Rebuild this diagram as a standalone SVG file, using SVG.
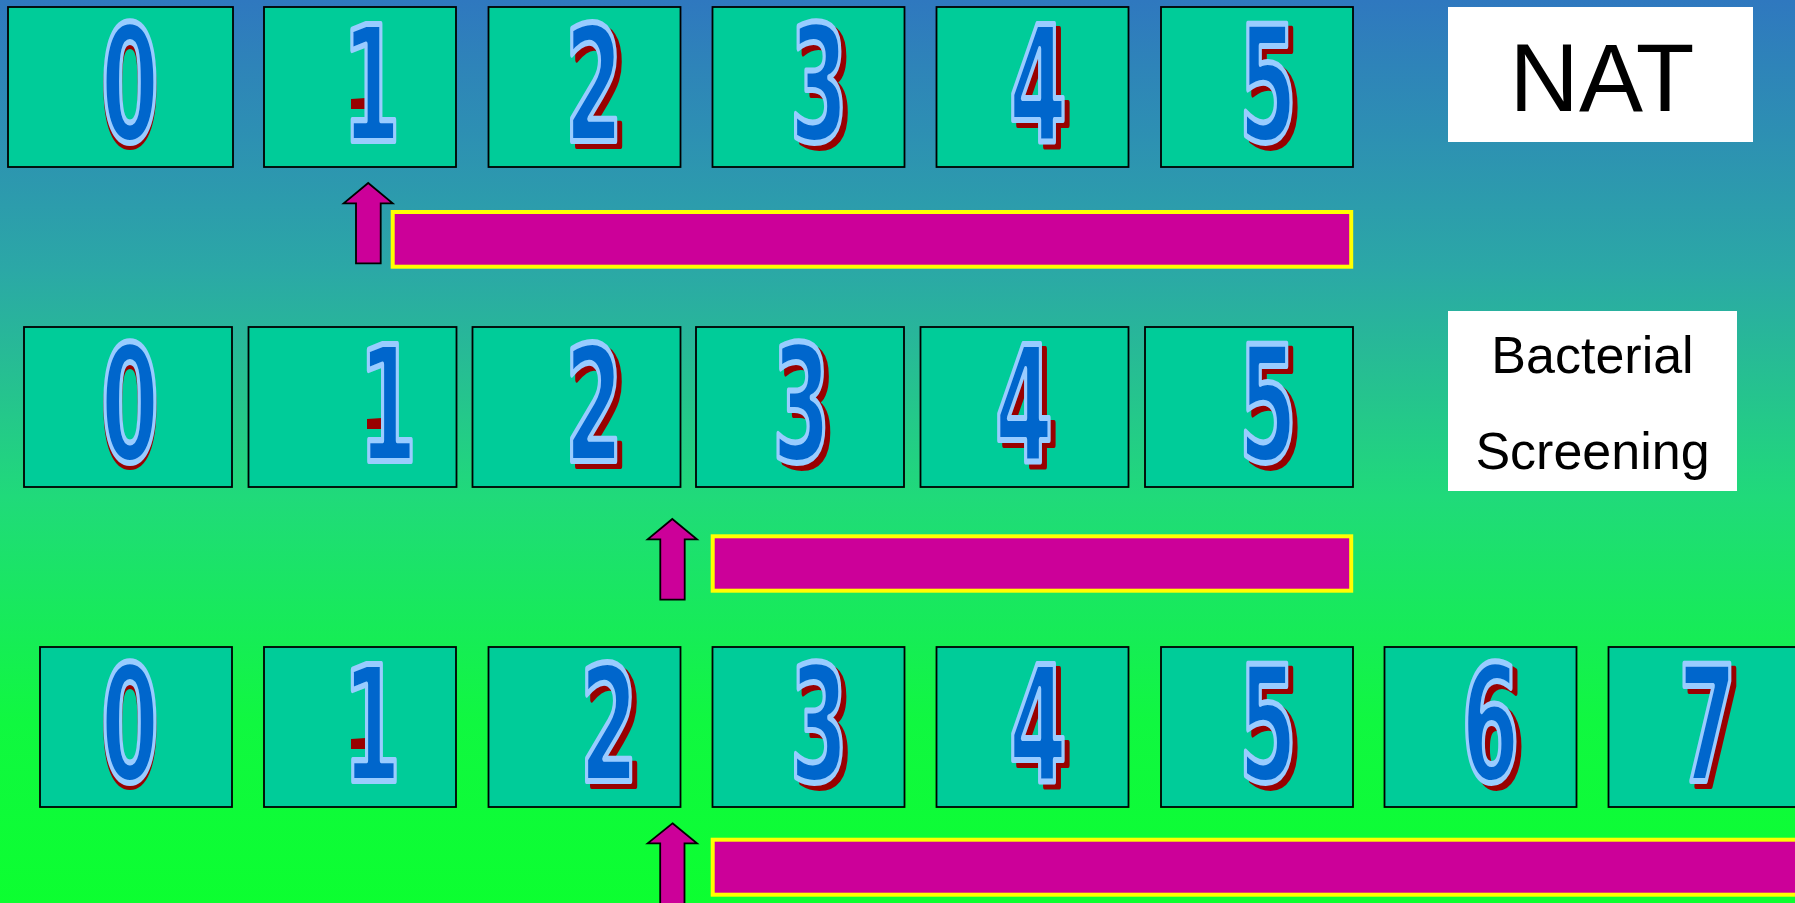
<svg xmlns="http://www.w3.org/2000/svg" width="1795" height="903" viewBox="0 0 1795 903">
<defs>
<linearGradient id="bg" x1="0" y1="0" x2="0" y2="903" gradientUnits="userSpaceOnUse">
<stop offset="0" stop-color="#2F78BF"/>
<stop offset="0.3" stop-color="#2BA8A6"/>
<stop offset="0.55" stop-color="#20DA7A"/>
<stop offset="0.8" stop-color="#10F840"/>
<stop offset="1" stop-color="#0CFF30"/>
</linearGradient>
</defs>
<style>
.box{fill:#00CC99;stroke:#000;stroke-width:1.8}
.dg{font-family:"DejaVu Sans",sans-serif;font-weight:bold;font-size:160px;text-anchor:middle;fill:#0066CC;stroke:#99CCFF;stroke-width:6;stroke-linejoin:round}
.sh{font-family:"DejaVu Sans",sans-serif;font-weight:bold;font-size:160px;text-anchor:middle;fill:#990000;stroke:#990000;stroke-width:6;stroke-linejoin:round}
.bar{fill:#CC0099;stroke:#FFFF00;stroke-width:4}
.arr{fill:#CC0099;stroke:#000;stroke-width:1.8;stroke-linejoin:miter}
.lbl{fill:#FFFFFF}
.lt{font-family:"Liberation Sans",Arial,sans-serif;fill:#000;text-anchor:middle}
</style>
<rect x="0" y="0" width="1795" height="903" fill="url(#bg)"/>

<!-- Row 1 -->
<g id="r1n0"><rect class="box" x="8" y="7" width="225" height="160"/>
<g transform="translate(130,141) scale(0.52,1)"><text class="sh" x="0" y="4">0</text><text class="dg" x="0" y="0">0</text></g></g>
<g id="r1n1"><rect class="box" x="264" y="7" width="192" height="160"/>
<path d="M351,99 L366,98 L366,109 L351,109 Z" fill="#990000"/>
<g transform="translate(371.5,141) scale(0.52,1)"><text class="dg" x="0" y="0">1</text></g></g>
<g id="r1n2"><rect class="box" x="488.5" y="7" width="192" height="160"/>
<g transform="translate(594,141) scale(0.52,1)"><text class="sh" x="9.6" y="5">2</text><text class="dg" x="0" y="0">2</text></g></g>
<g id="r1n3"><rect class="box" x="712.5" y="7" width="192" height="160"/>
<g transform="translate(819,141) scale(0.52,1)"><text class="sh" x="9.6" y="5">3</text><text class="dg" x="0" y="0">3</text></g></g>
<g id="r1n4"><rect class="box" x="936.5" y="7" width="192" height="160"/>
<g transform="translate(1038,141) scale(0.52,1)"><text class="sh" x="9.6" y="5">4</text><text class="dg" x="0" y="0">4</text></g></g>
<g id="r1n5"><rect class="box" x="1161" y="7" width="192" height="160"/>
<g transform="translate(1268,141) scale(0.52,1)"><text class="sh" x="9.6" y="5">5</text><text class="dg" x="0" y="0">5</text></g></g>

<g id="nat"><rect class="lbl" x="1448" y="7" width="305" height="135"/>
<text class="lt" x="1602" y="111" font-size="96">NAT</text></g>

<!-- Row 2 -->
<g id="r2n0"><rect class="box" x="24" y="327" width="208" height="160"/>
<g transform="translate(130,461) scale(0.52,1)"><text class="sh" x="0" y="4">0</text><text class="dg" x="0" y="0">0</text></g></g>
<g id="r2n1"><rect class="box" x="248.5" y="327" width="208" height="160"/>
<path d="M367,419 L382,418 L382,429 L367,429 Z" fill="#990000"/>
<g transform="translate(388,461) scale(0.52,1)"><text class="dg" x="0" y="0">1</text></g></g>
<g id="r2n2"><rect class="box" x="472.5" y="327" width="208" height="160"/>
<g transform="translate(594,461) scale(0.52,1)"><text class="sh" x="9.6" y="5">2</text><text class="dg" x="0" y="0">2</text></g></g>
<g id="r2n3"><rect class="box" x="696" y="327" width="208" height="160"/>
<g transform="translate(801.5,461) scale(0.52,1)"><text class="sh" x="9.6" y="5">3</text><text class="dg" x="0" y="0">3</text></g></g>
<g id="r2n4"><rect class="box" x="920.5" y="327" width="208" height="160"/>
<g transform="translate(1024,461) scale(0.52,1)"><text class="sh" x="9.6" y="5">4</text><text class="dg" x="0" y="0">4</text></g></g>
<g id="r2n5"><rect class="box" x="1145" y="327" width="208" height="160"/>
<g transform="translate(1268,461) scale(0.52,1)"><text class="sh" x="9.6" y="5">5</text><text class="dg" x="0" y="0">5</text></g></g>

<g id="bact"><rect class="lbl" x="1448" y="311" width="289" height="180"/>
<text class="lt" x="1592.5" y="373" font-size="52">Bacterial</text>
<text class="lt" x="1592.5" y="469" font-size="52">Screening</text></g>

<!-- Row 3 -->
<g id="r3n0"><rect class="box" x="40" y="647" width="192" height="160"/>
<g transform="translate(130,781) scale(0.52,1)"><text class="sh" x="0" y="4">0</text><text class="dg" x="0" y="0">0</text></g></g>
<g id="r3n1"><rect class="box" x="264" y="647" width="192" height="160"/>
<path d="M351,739 L366,738 L366,749 L351,749 Z" fill="#990000"/>
<g transform="translate(372,781) scale(0.52,1)"><text class="dg" x="0" y="0">1</text></g></g>
<g id="r3n2"><rect class="box" x="488.5" y="647" width="192" height="160"/>
<g transform="translate(609,781) scale(0.52,1)"><text class="sh" x="9.6" y="5">2</text><text class="dg" x="0" y="0">2</text></g></g>
<g id="r3n3"><rect class="box" x="712.5" y="647" width="192" height="160"/>
<g transform="translate(819,781) scale(0.52,1)"><text class="sh" x="9.6" y="5">3</text><text class="dg" x="0" y="0">3</text></g></g>
<g id="r3n4"><rect class="box" x="936.5" y="647" width="192" height="160"/>
<g transform="translate(1038,781) scale(0.52,1)"><text class="sh" x="9.6" y="5">4</text><text class="dg" x="0" y="0">4</text></g></g>
<g id="r3n5"><rect class="box" x="1161" y="647" width="192" height="160"/>
<g transform="translate(1268,781) scale(0.52,1)"><text class="sh" x="9.6" y="5">5</text><text class="dg" x="0" y="0">5</text></g></g>
<g id="r3n6"><rect class="box" x="1384.5" y="647" width="192" height="160"/>
<g transform="translate(1490.5,781) scale(0.52,1)"><text class="sh" x="9.6" y="5">6</text><text class="dg" x="0" y="0">6</text></g></g>
<g id="r3n7"><rect class="box" x="1608.5" y="647" width="192" height="160"/>
<g transform="translate(1707.5,781) scale(0.52,1)"><text class="sh" x="9.6" y="5">7</text><text class="dg" x="0" y="0">7</text></g></g>

<!-- Bars -->
<g id="bars">
<rect class="bar" x="392.7" y="212" width="958.5" height="54.7"/>
<rect class="bar" x="712.7" y="536.3" width="638.5" height="54.4"/>
<rect class="bar" x="712.7" y="839.7" width="1100" height="55"/>
</g>

<!-- Arrows -->
<g id="connectors">
<polygon class="arr" points="368.2,183 392.7,203.3 380.7,203.3 380.7,263.3 356,263.3 356,203.3 343.7,203.3"/>
<polygon class="arr" points="672.3,519 697,539.3 684.7,539.3 684.7,599.7 660.3,599.7 660.3,539.3 647.7,539.3"/>
<polygon class="arr" points="672.5,823.3 697,843.3 684.5,843.3 684.5,910 660.2,910 660.2,843.3 647.7,843.3"/>
</g>
</svg>
